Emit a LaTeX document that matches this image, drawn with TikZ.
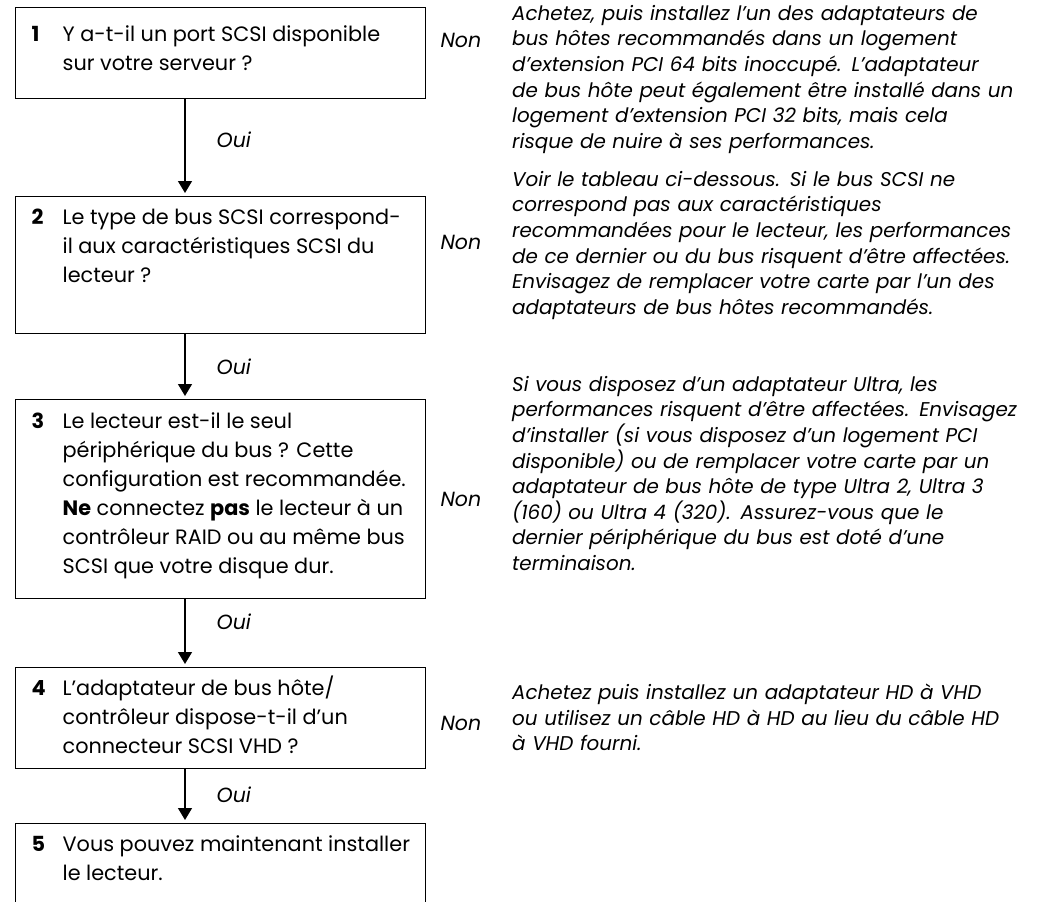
\documentclass[tikz,border=0pt]{standalone}
\usepackage{fontspec}
\setmainfont{Poppins}
\usetikzlibrary{positioning, arrows.meta}

% box body: number, first baseline, height, lines
\newcommand{\stepbody}[4]{%
  \parbox[t][#3][t]{410pt}{\rule{0pt}{#2}\hspace*{16pt}\makebox[31pt][l]{\bfseries #1}\parbox[t]{375pt}{\raggedright #4}}}

\begin{document}
\begin{tikzpicture}[
    x=1pt, y=-1pt,
    stepbox/.style={draw, line width=1.3pt, inner sep=0pt, anchor=north west,
      font=\fontsize{20.8}{29}\selectfont},
    note/.style={anchor=north west, inner sep=0pt, text width=525pt, align=left,
      font=\itshape\fontsize{19.9}{25.6}\selectfont},
    non/.style={anchor=west, inner sep=0pt, font=\itshape\fontsize{20.5}{23}\selectfont},
    oui/.style={anchor=west, inner sep=0pt, xshift=31pt, font=\itshape\fontsize{20.5}{23}\selectfont},
    arrow/.style={draw, line width=1.3pt, shorten >=3pt, -{Triangle[width=14pt,length=12pt]}}
]
\useasboundingbox (0,0) rectangle (1037,902);

% Question boxes
\node[stepbox] (s1) at (15,7) {\stepbody{1}{34pt}{91pt}{Y a-t-il un port SCSI disponible\\sur votre serveur ?}};
\node[stepbox] (s2) at (15,196) {\stepbody{2}{28pt}{137pt}{Le type de bus SCSI correspond-\\il aux caractéristiques SCSI du\\lecteur ?}};
\node[stepbox] (s3) at (15,399) {\stepbody{3}{29pt}{199pt}{Le lecteur est-il le seul\\périphérique du bus ? Cette\\configuration est recommandée.\\\textbf{Ne} connectez \textbf{pas} le lecteur à un\\contrôleur RAID ou au même bus\\SCSI que votre disque dur.}};
\node[stepbox] (s4) at (15,667) {\stepbody{4}{28pt}{101pt}{L’adaptateur de bus hôte/\\contrôleur dispose-t-il d’un\\connecteur SCSI VHD ?}};
\node[stepbox] (s5) at (15,823) {\stepbody{5}{28pt}{110pt}{Vous pouvez maintenant installer\\le lecteur.}};

% Oui connections
\draw[arrow] ([xshift=170pt]s1.south west) -- ([xshift=170pt]s2.north west) node[oui, pos=.42] {Oui};
\draw[arrow] ([xshift=170pt]s2.south west) -- ([xshift=170pt]s3.north west) node[oui, pos=.5] {Oui};
\draw[arrow] ([xshift=170pt]s3.south west) -- ([xshift=170pt]s4.north west) node[oui, pos=.33] {Oui};
\draw[arrow] ([xshift=170pt]s4.south west) -- ([xshift=170pt]s5.north west) node[oui, pos=.48] {Oui};

% Non labels
\node[non] (non1) at ([xshift=14pt,yshift=-33pt]s1.north east) {Non};
\node[non] (non2) at ([xshift=14pt,yshift=-46pt]s2.north east) {Non};
\node[non] (non3) at ([xshift=14pt]s3.east) {Non};
\node[non] (non4) at ([xshift=14pt,yshift=-5pt]s4.east) {Non};

% Notes on the right
\node[note] (r1) at (512,5) {Achetez, puis installez l’un des adaptateurs de\\bus hôtes recommandés dans un logement\\d’extension PCI 64 bits inoccupé. L’adaptateur\\de bus hôte peut également être installé dans un\\logement d’extension PCI 32 bits, mais cela\\risque de nuire à ses performances.};
\node[note] (r2) at (512,171) {Voir le tableau ci-dessous. Si le bus SCSI ne\\correspond pas aux caractéristiques\\recommandées pour le lecteur, les performances\\de ce dernier ou du bus risquent d’être affectées.\\Envisagez de remplacer votre carte par l’un des\\adaptateurs de bus hôtes recommandés.};
\node[note] (r3) at (512,376) {Si vous disposez d’un adaptateur Ultra, les\\performances risquent d’être affectées. Envisagez\\d’installer (si vous disposez d’un logement PCI\\disponible) ou de remplacer votre carte par un\\adaptateur de bus hôte de type Ultra 2, Ultra 3\\(160) ou Ultra 4 (320). Assurez-vous que le\\dernier périphérique du bus est doté d’une\\terminaison.};
\node[note] (r4) at (512,684) {Achetez puis installez un adaptateur HD à VHD\\ou utilisez un câble HD à HD au lieu du câble HD\\à VHD fourni.};

\end{tikzpicture}
\end{document}
